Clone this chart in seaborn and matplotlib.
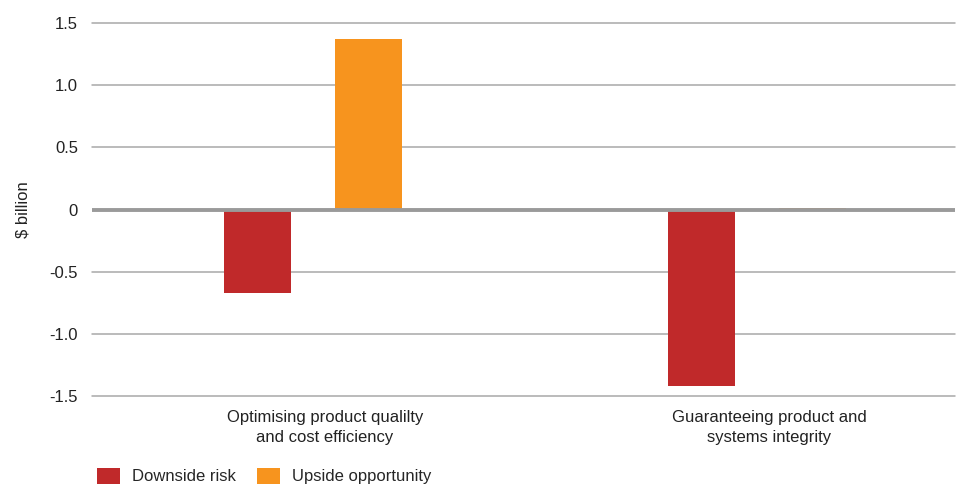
import matplotlib
matplotlib.use("Agg")
import matplotlib.pyplot as plt
import matplotlib.transforms as mtransforms
import seaborn as sns
import pandas as pd
from matplotlib.patches import Patch

categories = ["Optimising product qualilty\nand cost efficiency",
              "Guaranteeing product and\nsystems integrity"]
series = ["Downside risk", "Upside opportunity"]
downside = [-0.67, -1.42]
upside = [1.37, 0.01]
colors = ["#C0292A", "#F7941E"]
yticks = [-1.5, -1.0, -0.5, 0, 0.5, 1.0, 1.5]
ytick_labels = ["-1.5", "-1.0", "-0.5", "0", "0.5", "1.0", "1.5"]

df = pd.DataFrame({
    "category": categories * 2,
    "series": [series[0]] * 2 + [series[1]] * 2,
    "value": downside + upside,
})

sns.set_theme(style="white")
plt.rcParams["font.family"] = ["Liberation Sans", "DejaVu Sans"]

fig = plt.figure(figsize=(9.57, 4.86), dpi=100)
ax = fig.add_axes([92 / 957, 1 - 396 / 486, (955 - 92) / 957, (396 - 23) / 486])

sns.barplot(data=df, x="category", y="value", hue="series", order=categories,
            hue_order=series, palette=colors, width=0.5, gap=0.4,
            saturation=1, ax=ax, legend=False, zorder=3, linewidth=0,
            edgecolor="none")

ax.set_ylim(-1.5, 1.5)
ax.set_xlim(-0.498, 1.446)
ax.set_yticks(yticks)
ax.set_yticklabels(ytick_labels)
for y in yticks:
    if y == 0:
        continue
    ax.axhline(y, color="#A8A8A8", lw=1.1, zorder=1, clip_on=False)
ax.axhline(0, color="#9A9A9A", lw=2.8, zorder=4)

for s in ax.spines.values():
    s.set_visible(False)
ax.tick_params(axis="y", length=0, pad=10, labelsize=12, labelcolor="#222222")
ax.tick_params(axis="x", length=0, pad=10, labelsize=12, labelcolor="#222222")
ax.set_xlabel("")
ax.set_ylabel("$ billion", fontsize=12, color="#222222", labelpad=14)

offset = mtransforms.ScaledTranslation(12 / 100, 0, fig.dpi_scale_trans)
for lbl in ax.get_xticklabels():
    lbl.set_transform(lbl.get_transform() + offset)
    lbl.set_linespacing(1.4)

handles = [Patch(facecolor=c, edgecolor="none") for c in colors]
fig.legend(handles, series, loc="center left",
           bbox_to_anchor=(97 / 957, 1 - 476 / 486),
           ncol=2, frameon=False, fontsize=12, handlelength=1.38,
           handleheight=1.08, columnspacing=1.26, handletextpad=0.72,
           borderpad=0, borderaxespad=0)

fig.savefig("out.png", dpi=100)
